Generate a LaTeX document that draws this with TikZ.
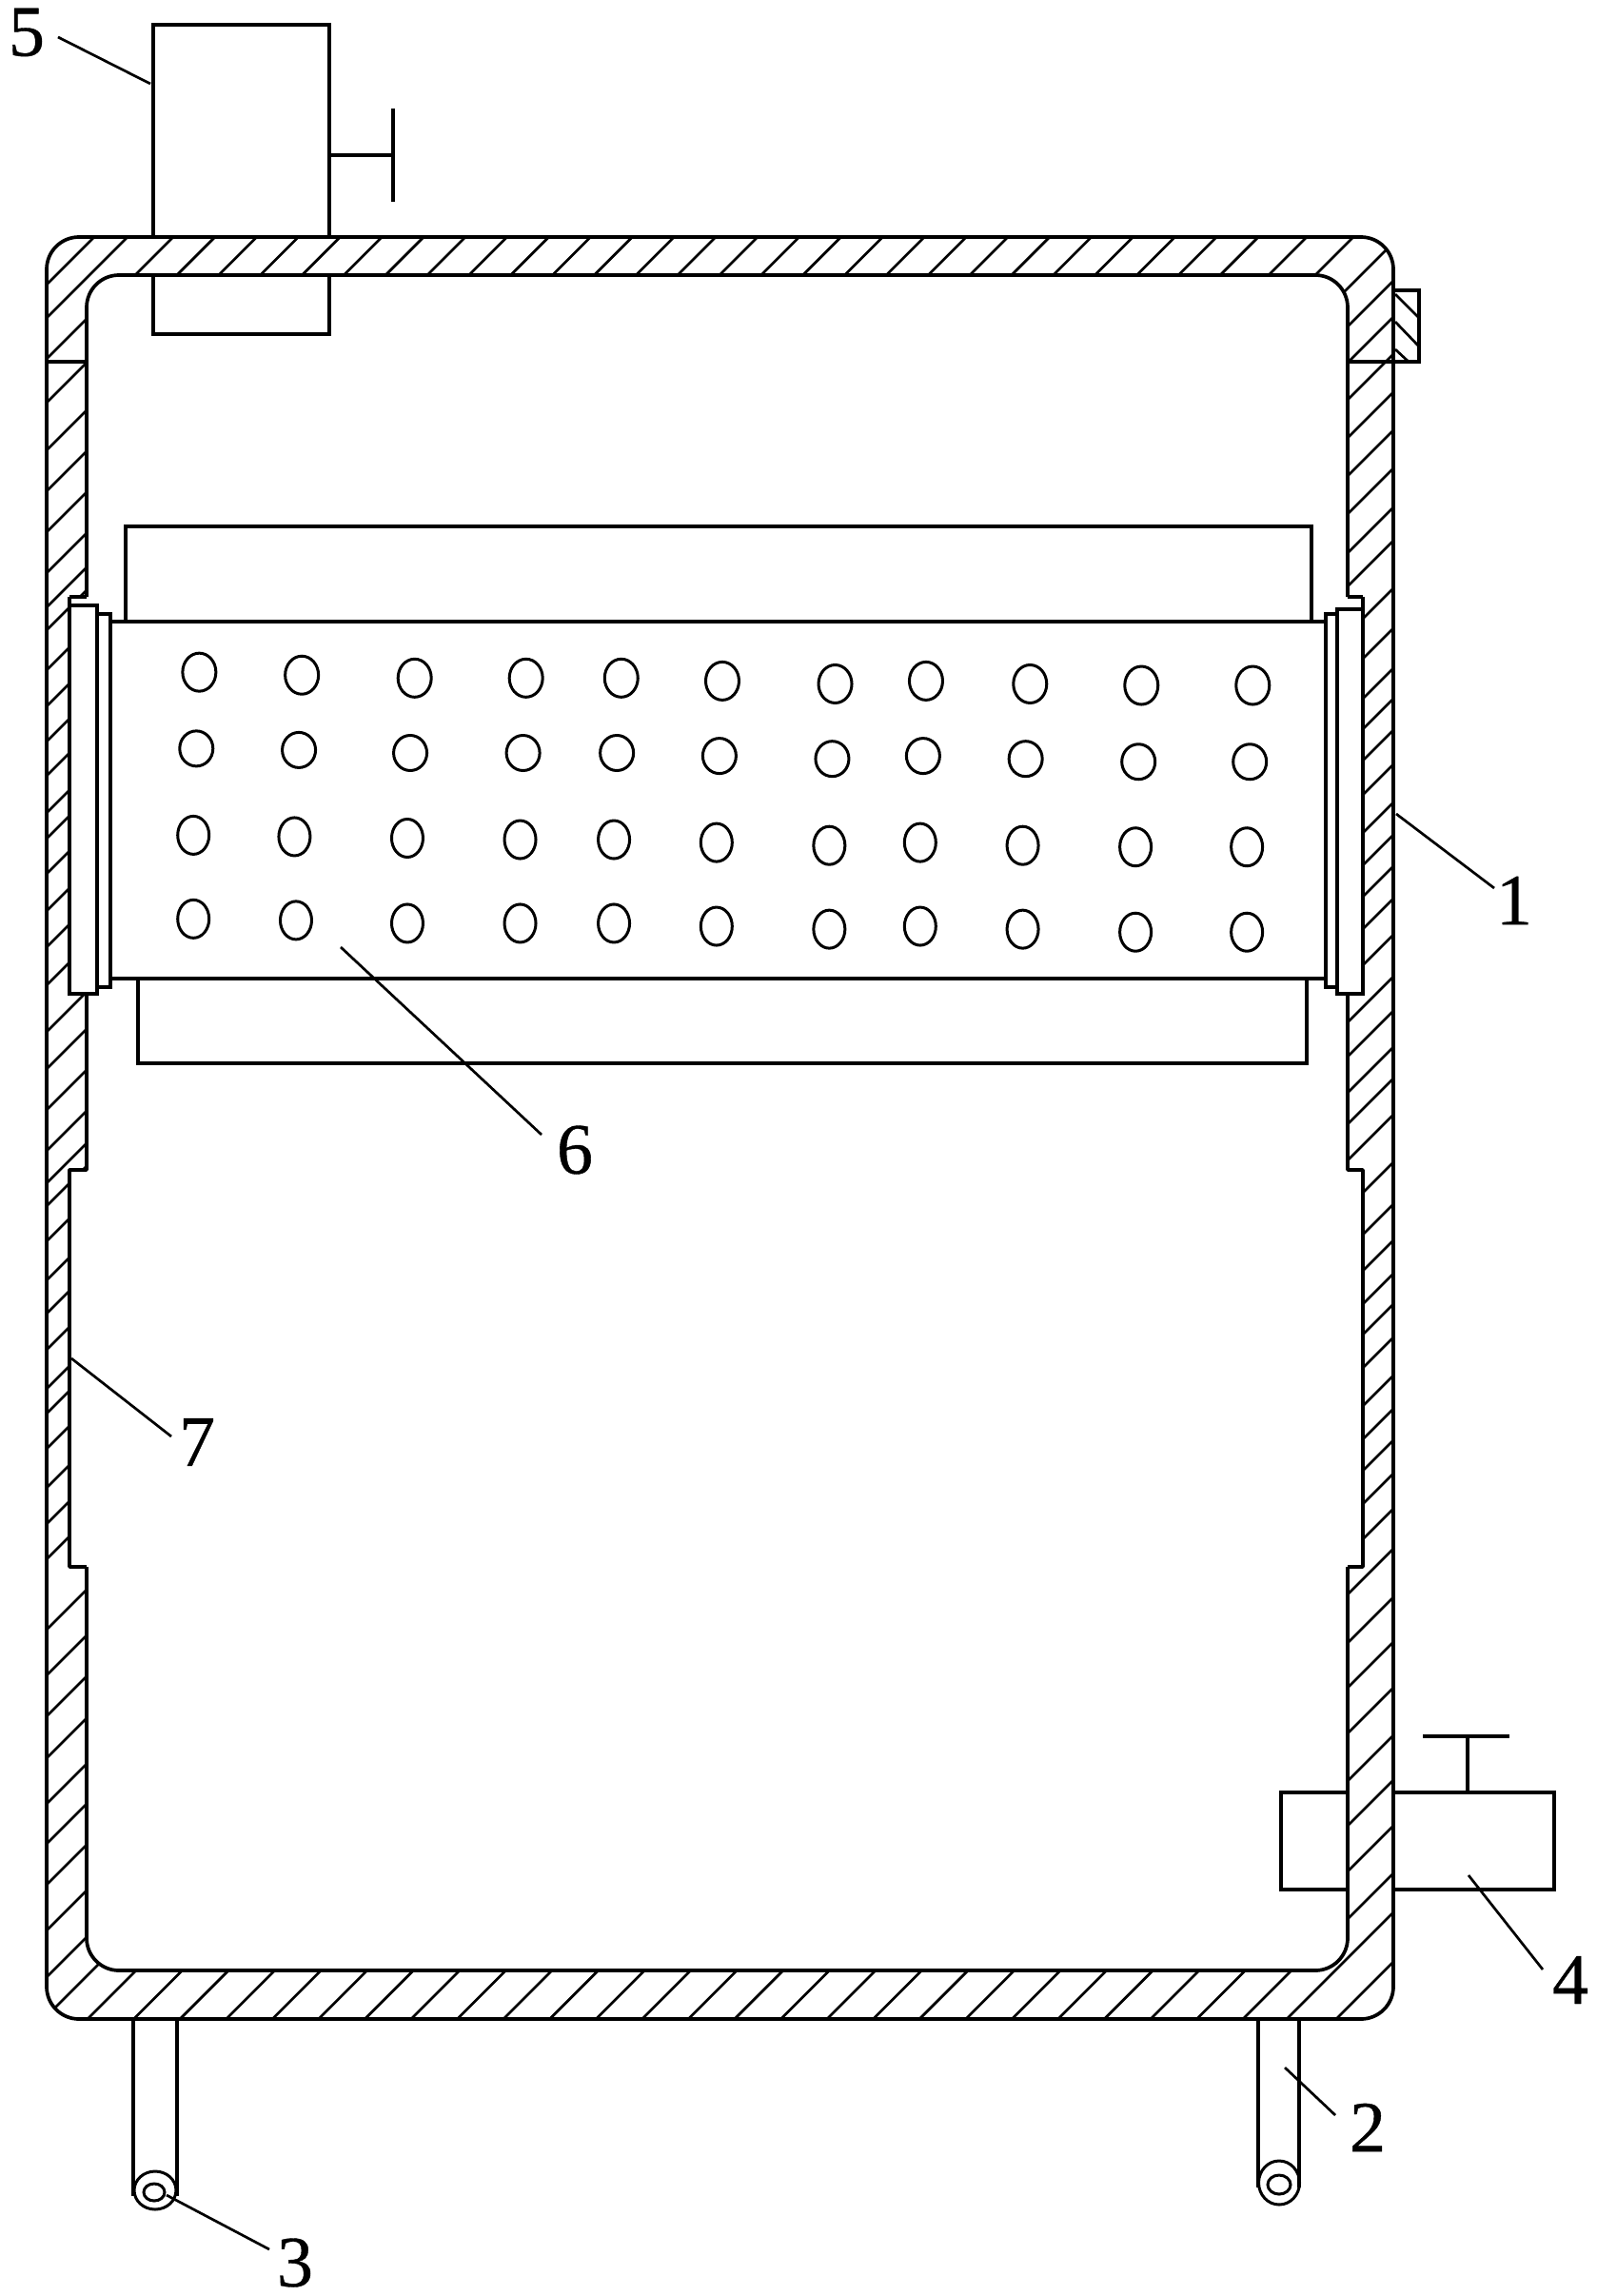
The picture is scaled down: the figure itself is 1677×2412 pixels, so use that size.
\documentclass[tikz,border=0pt]{standalone}
\usepackage{fontspec}
\newfontfamily\numfont[FakeBold=0.5]{Liberation Serif}
\begin{document}
\begin{tikzpicture}[x=0.5pt,y=-0.5pt,
  wall/.style={line width=1.85pt,line join=round},
  part/.style={line width=1.85pt,line join=miter,fill=white},
  thin part/.style={line width=1.85pt},
  hatch/.style={line width=1.35pt},
  leader/.style={line width=1.35pt},
  hole/.style={line width=1.5pt},
  num/.style={inner sep=0pt,font=\fontsize{38}{38}\numfont}]
\useasboundingbox (0,0) rectangle (1677,2412);
% hatching of the wall
\begin{scope}
  \clip[rounded corners=17pt] (49,249) rectangle (1464,2121);
  % left wall (y at x=49)
  \foreach \y in {377,423,473,516,559,602,638,662,704,742,779,815,854,881,918,957,995,1035,1084,1123,1166,1209,1243,1267,1304,1345,1380,1418,1459,1485,1522,1563,1601,1638,1712,1760,1803,1847,1895,1937,1980,2028,2077,2118}
    \draw[hatch] (49,\y) -- ++(70,-70);
  % top wall (x at y=249)
  \foreach \k in {0,...,26}
    \draw[hatch] ({182+\k*43.85},249) -- ++(-46,46);
  \foreach \x in {1373,1422}
    \draw[hatch] (\x,249) -- ++(-46,46);
  \draw[hatch] (99,249) -- ++(-52,52);
  \draw[hatch] (134,249) -- ++(-87,87);
  % right wall (y at x=1464)
  \foreach \y in {255,295,333,372,412,452,492,533,568,618,660,702,734,767,803,843,877,910,944,982,1026,1062,1100,1133,1171,1221,1265,1303,1338,1370,1405,1445,1480,1513,1548,1585,1627,1678,1725,1773,1823,1870,1918,1968}
    \draw[hatch] (1464,\y) -- ++(-70,70);
  \draw[hatch] (1464,2009) -- ++(-114,114);
  \draw[hatch] (1464,2061) -- ++(-63,63);
  % bottom wall (x at y=2121)
  \foreach \k in {0,...,25}
    \draw[hatch] ({92+\k*48.56},2121) -- ++(55,-55);
\end{scope}
% interior of the wall
\path[fill=white,rounded corners=17pt] (91,289) -- (1416,289) -- (1416,2070) -- (91,2070) -- cycle;
\path[fill=white] (73,627) rectangle (91,1044);
\path[fill=white] (73,1229) rectangle (91,1646);
\path[fill=white] (1416,627) rectangle (1432,1044);
\path[fill=white] (1416,1229) rectangle (1432,1646);
% outline of the wall
\draw[wall,rounded corners=17pt] (49,600) -- (49,249) -- (1464,249) -- (1464,2121) -- (49,2121) -- cycle;
\draw[wall] (91,627) -- (73,627) (91,1044) -- (91,1229) -- (73,1229) -- (73,1646) -- (91,1646);
\draw[wall] (1416,627) -- (1432,627) (1416,1044) -- (1416,1229) -- (1432,1229) -- (1432,1646) -- (1416,1646);
\draw[wall,rounded corners=17pt] (91,627) -- (91,289) -- (1416,289) -- (1416,627);
\draw[wall,rounded corners=17pt] (91,1646) -- (91,2070) -- (1416,2070) -- (1416,1646);
\draw[wall] (73,627) -- (73,1044);
\draw[wall] (1432,627) -- (1432,1044);
\draw[thin part] (49,380) -- (91,380);
\draw[thin part] (1416,380) -- (1491,380) -- (1491,305) -- (1464,305);
\draw[hatch] (1466,309) -- (1490,333) (1466,338) -- (1490,363) (1466,367) -- (1480,380);
% part 5
\draw[thin part] (161,249) -- (161,26) -- (346,26) -- (346,249);
\draw[thin part] (161,289) -- (161,351) -- (346,351) -- (346,289);
\draw[thin part] (346,163) -- (413,163) (413,114) -- (413,212);
% drum
\draw[thin part] (132,653) -- (132,553) -- (1378,553) -- (1378,653);
\draw[thin part] (145,1028) -- (145,1117) -- (1373,1117) -- (1373,1028);
\draw[part] (116,653) rectangle (1393,1028);
\draw[part] (73,636) rectangle (102,1044);
\draw[part] (102,645) rectangle (116,1037);
\draw[part] (1405,640) rectangle (1432,1044);
\draw[part] (1393,645) rectangle (1405,1037);
% holes
\foreach \x/\y in {136/459,206/461,283/463,359/463,424/463,493/465,570/467,632/465,703/467,779/468,855/468}
  \draw[hole] ({\x*1.5395},{\y*1.5428-2}) ellipse (17.5 and 20);
\foreach \x/\y in {134/511,204/512,280/514,357/514,421/514,491/516,568/518,630/516,700/518,777/520,853/520}
  \draw[hole] ({\x*1.5395},{\y*1.5428-2}) ellipse (17.5 and 18.5);
\foreach \x/\y in {132/570,201/571,278/572,355/573,419/573,489/575,566/577,628/575,698/577,775/578,851/578}
  \draw[hole] ({\x*1.5395},{\y*1.5428-2}) ellipse (16.5 and 20);
\foreach \x/\y in {132/627,202/628,278/630,355/630,419/630,489/632,566/634,628/632,698/634,775/636,851/636}
  \draw[hole] ({\x*1.5395},{\y*1.5428-2}) ellipse (16.5 and 20);
% valve 4
\draw[thin part] (1416,1883) -- (1346,1883) -- (1346,1985) -- (1416,1985);
\draw[thin part] (1464,1883) -- (1633,1883) -- (1633,1985) -- (1464,1985);
\draw[thin part] (1542,1883) -- (1542,1824) (1495,1824) -- (1586,1824);
% feet
\draw[thin part] (1322,2121) -- (1322,2298) (1365,2121) -- (1365,2298);
\draw[hole] (1344,2293) ellipse (21.5 and 23);
\draw[hole] (1344,2295) ellipse (12 and 10);
\draw[thin part] (140,2121) -- (140,2307) (186,2121) -- (186,2307);
\draw[hole] (163,2301) ellipse (22 and 20);
\draw[hole] (162,2303) ellipse (11 and 9);
% labels
\node[num] (n1) at (1591,946) {1};
\node[num] (n2) at (1437,2235) {2};
\node[num] (n3) at (310,2377) {3};
\node[num] (n4) at (1650,2080) {4};
\node[num] (n5) at (28,34) {5};
\node[num] (n6) at (604,1208) {6};
\node[num] (n7) at (207,1515) {7};
\coordinate (e1a) at (1467,855); \coordinate (e1b) at (1570,933);
\coordinate (e2a) at (1350,2172); \coordinate (e2b) at (1403,2222);
\coordinate (e3a) at (175,2306); \coordinate (e3b) at (283,2363);
\coordinate (e4a) at (1543,1970); \coordinate (e4b) at (1621,2069);
\coordinate (e5a) at (61,39); \coordinate (e5b) at (158,88);
\coordinate (e6a) at (358,995); \coordinate (e6b) at (569,1192);
\coordinate (e7a) at (75,1427); \coordinate (e7b) at (180,1509);
\foreach \i in {1,...,7}
  \draw[leader] (e\i a) -- (e\i b);
\end{tikzpicture}
\end{document}
